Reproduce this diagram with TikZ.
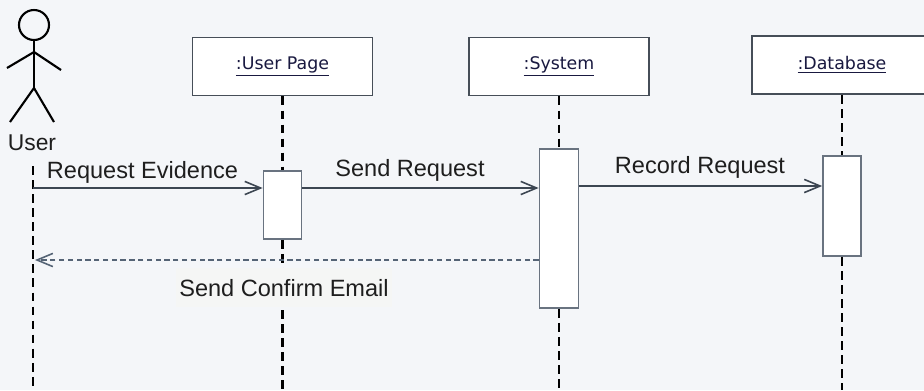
\documentclass[tikz,border=0pt]{standalone}
\usepackage{fontspec}
\setmainfont{Liberation Sans}
\newfontfamily\boxfont{DejaVu Sans}
\usetikzlibrary{arrows.meta}
\definecolor{bgc}{RGB}{244,246,249}
\definecolor{lblbg}{RGB}{245,246,245}
\definecolor{boxline}{RGB}{70,78,88}
\definecolor{actline}{RGB}{105,115,128}
\definecolor{msgline}{RGB}{60,70,82}
\definecolor{retline}{RGB}{85,100,118}
\definecolor{txt}{RGB}{30,30,30}
\tikzset{
  objbox/.style={draw=boxline, line width=1.1pt, fill=white, minimum width=3.6cm, minimum height=1.16cm, inner sep=0pt,
    font=\boxfont\fontsize{9.9pt}{11pt}\selectfont, text=txt!85!blue},
  actbox/.style={draw=actline, line width=1pt, fill=white, inner sep=0pt},
  lifeline/.style={draw=black, line width=1.2pt, dash pattern=on 5pt off 3pt},
  msg/.style={draw=msgline, line width=1pt, -{Straight Barb[length=9pt,width=7.5pt,line width=0.9pt]}},
  ret/.style={draw=retline, line width=0.9pt, dash pattern=on 3pt off 2pt, -{Straight Barb[length=9pt,width=7.5pt,line width=0.9pt,sep=0pt]}},
  lbl/.style={font=\fontsize{13.4pt}{15pt}\selectfont, text=txt, anchor=base, inner sep=0pt},
  actor/.style={draw=black, line width=1.2pt}
}
\begin{document}
\begin{tikzpicture}[x=0.02cm,y=-0.02cm]
\fill[bgc] (0,0) rectangle (924,390);
\useasboundingbox (0,0) rectangle (924,390);

% actor
\node[actor, circle, minimum size=0.6cm, inner sep=0pt] (head) at (34,25) {};
\coordinate (hip) at (34,88);
\coordinate (sh) at (34,52);
\draw[actor] (head.south) -- (hip);
\draw[actor] (7,68) -- (sh) -- (61,70);
\draw[actor] (10,122) -- (hip) -- (54,122);
\node[lbl, font=\fontsize{13pt}{15pt}\selectfont] (user) at (32,150) {User};

% object boxes
\node[objbox] (up) at (282.5,66.5) {\underline{:User Page}};
\node[objbox] (sys) at (559,66.5) {\underline{:System}};
\node[objbox] (db) at (842,65) {\underline{:Database}};

% activations
\node[actbox, minimum width=0.76cm, minimum height=1.36cm] (aup) at (282.5,205) {};
\node[actbox, minimum width=0.78cm, minimum height=3.18cm] (asys) at (559,228.5) {};
\node[actbox, minimum width=0.76cm, minimum height=2.0cm] (adb) at (842,206) {};

% lifelines
\coordinate (ubeg) at (33,166);
\coordinate (uend) at (33,390);
\coordinate (upend) at (282.5,390);
\coordinate (sysend) at (559,390);
\coordinate (dbend) at (842,390);
\draw[lifeline] (ubeg) -- (uend);
\draw[lifeline] (up.south) -- (aup.north);
\draw[lifeline] (aup.south) -- (upend);
\draw[lifeline] (sys.south) -- (asys.north);
\draw[lifeline] (asys.south) -- (sysend);
\draw[lifeline] (db.south) -- (adb.north);
\draw[lifeline] (adb.south) -- (dbend);

% messages
\coordinate (m1s) at (33,188);
\draw[msg] (m1s) -- (aup.west |- m1s);
\coordinate (m2s) at (aup.east |- 0,188);
\draw[msg] (m2s) -- (asys.west |- m2s);
\coordinate (m3s) at (asys.east |- 0,186);
\draw[msg] (m3s) -- (adb.west |- m3s);
\coordinate (m4s) at (asys.west |- 0,260);
\coordinate (m4e) at (35,260);
\draw[ret] (m4s) -- (m4e);

% labels
\node[lbl] (l1) at (142.5,178) {Request Evidence};
\node[lbl] (l2) at (410,176) {Send Request};
\node[lbl] (l3) at (700,173) {Record Request};
\node[lbl, fill=lblbg, inner xsep=2pt, inner ysep=0.22cm] (l4) at (284,296) {Send Confirm Email};
\end{tikzpicture}
\end{document}
